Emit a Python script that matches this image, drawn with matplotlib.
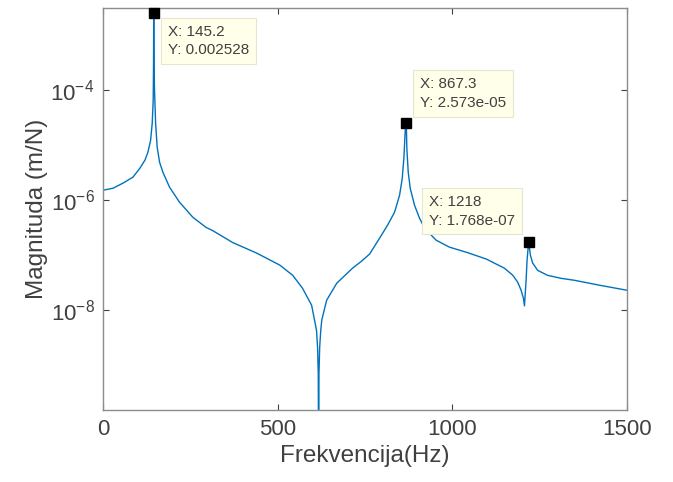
import matplotlib
matplotlib.use('Agg')
import matplotlib.pyplot as plt
from matplotlib.ticker import NullLocator

plt.rcParams['font.family'] = ['Liberation Sans', 'DejaVu Sans']
plt.rcParams['mathtext.default'] = 'regular'

freq = [0, 28.6, 57, 85.7, 105.7, 120, 128.6, 136.3, 140.9, 143.7, 144.6, 145.0,
        145.2, 145.5, 146.2, 147.5, 150.6, 155.1, 162, 171.4, 190.6, 219, 257,
        295, 314, 371, 440, 506, 543, 571, 597, 611, 614, 616, 617, 618, 620,
        623, 626, 640, 669, 714, 740, 762.9, 791.4, 814.3, 834.3, 848.6, 856.3,
        860.9, 863.7, 865.6, 867.3, 868.3, 869.4, 873.4, 879.1, 891.4, 905.7,
        920, 953.4, 991.4, 1040, 1097, 1120, 1148.6, 1172.3, 1186.6, 1196.3,
        1202.9, 1206, 1210.6, 1213.4, 1218, 1222.9, 1229.4, 1243.7, 1272.3,
        1310.6, 1348.6, 1420, 1500]
mag = [1.52e-6, 1.65e-6, 2.04e-6, 2.62e-6, 3.82e-6, 5.33e-6, 7.46e-6, 1.23e-5,
       2.51e-5, 6.6e-5, 2.5e-4, 1.0e-3, 2.528e-3, 1.0e-3, 2.5e-4, 1.0e-4,
       2.51e-5, 9.2e-6, 4.9e-6, 3.23e-6, 1.72e-6, 9.2e-7, 4.9e-7, 3.2e-7,
       2.8e-7, 1.7e-7, 1.09e-7, 6.6e-8, 4.3e-8, 2.5e-8, 1.23e-8, 4.3e-9,
       2.1e-9, 7e-10, 1e-11, 7e-10, 2.1e-9, 4.2e-9, 6.6e-9, 1.52e-8, 3.1e-8,
       5.8e-8, 7.8e-8, 1.05e-7, 2.04e-7, 3.51e-7, 6.05e-7, 1.23e-6, 2.51e-6,
       5.8e-6, 1.34e-5, 2.2e-5, 2.573e-5, 1.9e-5, 8.8e-6, 3.23e-6, 1.65e-6,
       8.1e-7, 4.71e-7, 3.1e-7, 1.87e-7, 1.4e-7, 1.13e-7, 8.5e-8, 7.16e-8,
       5.8e-8, 4.33e-8, 3.23e-8, 2.31e-8, 1.65e-8, 1.2e-8, 3.5e-8, 8.1e-8,
       1.768e-7, 1.0e-7, 7.2e-8, 5.3e-8, 4.3e-8, 3.8e-8, 3.5e-8, 2.85e-8, 2.3e-8]

# data tips
tip_x = [145.2, 867.3, 1218]
tip_y = [0.002528, 2.573e-05, 1.768e-07]
tip_labels = ['X: 145.2\nY: 0.002528', 'X: 867.3\nY: 2.573e-05', 'X: 1218\nY: 1.768e-07']
tip_offsets = [(14, -12), (14, 13), (-100, 14)]
tip_va = ['top', 'bottom', 'bottom']

yticks = [1e-8, 1e-6, 1e-4]
ytick_labels = ['$10^{-8}$', '$10^{-6}$', '$10^{-4}$']

fig = plt.figure(figsize=(6.73, 4.82), dpi=100)
ax = fig.add_axes([0.153, 0.149, 0.779, 0.834])

ax.semilogy(freq, mag, color='#0072BD', lw=1.0)
ax.plot(tip_x, tip_y, 's', color='black', ms=7, zorder=5, clip_on=False)

for x, y, lab, off, va in zip(tip_x, tip_y, tip_labels, tip_offsets, tip_va):
    ax.annotate(lab, xy=(x, y), xytext=off, textcoords='offset pixels',
                ha='left', va=va, fontsize=11, color='#404040', linespacing=1.4,
                bbox=dict(boxstyle='square,pad=0.45', fc='#FFFFEA', ec='#E6E6D0', lw=0.8),
                zorder=6)

ax.set_xlim(0, 1500)
ax.set_ylim(1.52e-10, 3.1e-3)
ax.set_xticks([0, 500, 1000, 1500])
ax.set_yticks(yticks)
ax.set_yticklabels(ytick_labels)
ax.yaxis.set_minor_locator(NullLocator())

ax.set_xlabel('Frekvencija(Hz)', fontsize=17.5, color='#404040', labelpad=4)
ax.set_ylabel('Magnituda (m/N)', fontsize=17.5, color='#404040', labelpad=2)

ax.tick_params(direction='in', top=True, right=True, length=4, width=0.8,
               labelsize=16, colors='#404040', pad=6)
for s in ax.spines.values():
    s.set_color('#8c8c8c')
    s.set_linewidth(1.0)

fig.savefig('out.png', dpi=100)
